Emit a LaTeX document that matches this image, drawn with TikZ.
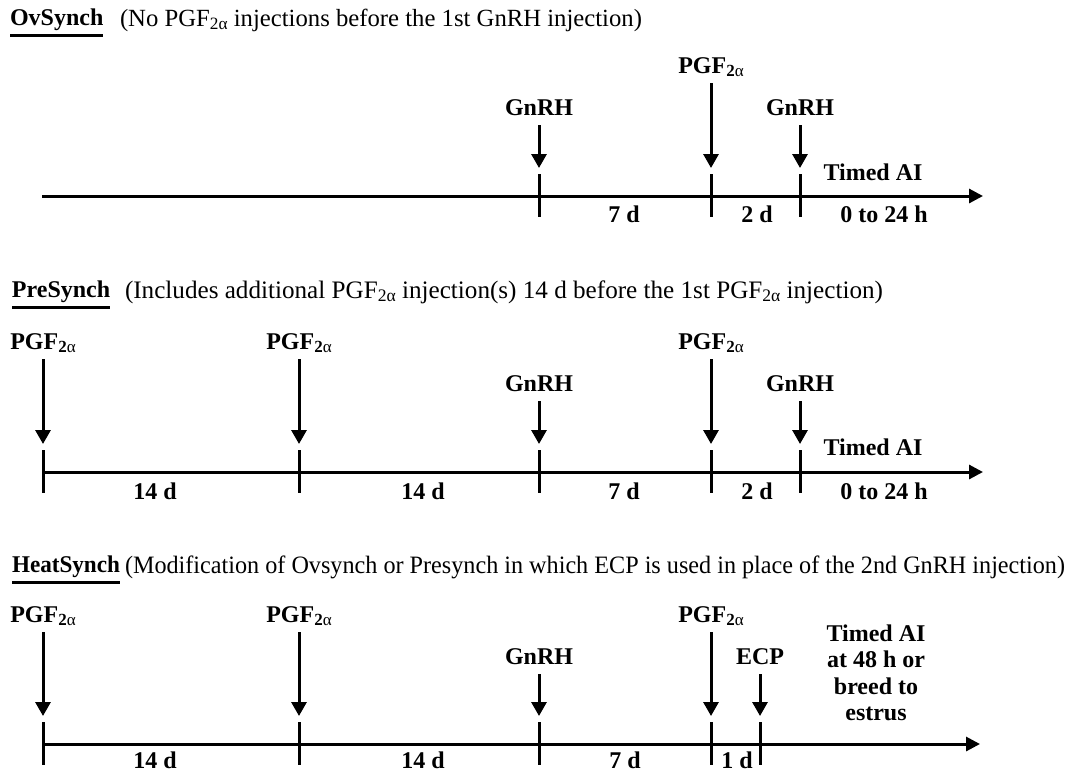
\documentclass[tikz,border=0pt]{standalone}
\usepackage{fontspec}
\setmainfont{Liberation Serif}
\usetikzlibrary{arrows.meta}
\newcommand{\subtwoa}{\raisebox{-0.28ex}{\fontsize{17}{17}\selectfont 2\textmd{α}}}
\newcommand{\subtwor}{\raisebox{-0.28ex}{\fontsize{17.5}{17}\selectfont 2α}}
\newcommand{\pgfb}{PGF\subtwoa}
\newcommand{\pgfr}{PGF\subtwor}
\tikzset{
  x=1pt, y=-1pt,
  every node/.style={inner sep=0pt, outer sep=0pt},
  lbl/.style={font=\fontsize{24}{27}\selectfont\bfseries},
  ttl/.style={font=\fontsize{24}{27}\selectfont\bfseries, anchor=west},
  subt/.style={font=\fontsize{25}{27}\selectfont, anchor=west},
  inj/.style={line width=3pt, -{Triangle[length=14pt,width=15pt]}},
  axisln/.style={line width=3pt, -{Triangle[length=14pt,width=14pt]}},
  tickln/.style={line width=3pt},
  uline/.style={line width=3pt},
}
\begin{document}
\begin{tikzpicture}
\useasboundingbox (0,0) rectangle (1067,772);

% ================= Row 1: OvSynch =================
\node[ttl] (t1) at (10,20) {OvSynch};
\draw[uline] ([yshift=-10pt]t1.base west) -- ([yshift=-10pt]t1.base east);
\node[subt] (s1) at (120,20) {\resizebox{522pt}{!}{(No \pgfr{} injections before the 1st GnRH injection)}};

\coordinate (a1s) at (42,196);
\coordinate (a1e) at (983,196);
\draw[axisln] (a1s) -- (a1e);

\node[lbl] (r1gn1) at (539,108) {GnRH};
\node[lbl] (r1pgf) at (711,67) {\pgfb};
\node[lbl] (r1gn2) at (800,108) {GnRH};
\coordinate (r1gn1a) at (539,125); \coordinate (r1gn1b) at (539,168);
\coordinate (r1pgfa) at (711,83);  \coordinate (r1pgfb) at (711,168);
\coordinate (r1gn2a) at (800,125); \coordinate (r1gn2b) at (800,168);
\draw[inj] (r1gn1a) -- (r1gn1b);
\draw[inj] (r1pgfa) -- (r1pgfb);
\draw[inj] (r1gn2a) -- (r1gn2b);

\coordinate (k1a) at (539,174); \coordinate (k1b) at (539,217);
\coordinate (k2a) at (711,174); \coordinate (k2b) at (711,217);
\coordinate (k3a) at (800,174); \coordinate (k3b) at (800,217);
\draw[tickln] (k1a) -- (k1b);
\draw[tickln] (k2a) -- (k2b);
\draw[tickln] (k3a) -- (k3b);

\node[lbl] (r1ai) at (873,172) {Timed AI};
\node[lbl] (r1d7) at (624,214) {7 d};
\node[lbl] (r1d2) at (757,214) {2 d};
\node[lbl] (r1h) at (884,214) {0 to 24 h};

% ================= Row 2: PreSynch =================
\node[ttl] (t2) at (12,292) {PreSynch};
\draw[uline] ([yshift=-10pt]t2.base west) -- ([yshift=-10pt]t2.base east);
\node[subt] (s2) at (125,292) {\resizebox{758pt}{!}{(Includes additional \pgfr{} injection(s) 14 d before the 1st \pgfr{} injection)}};

\coordinate (a2s) at (43,472);
\coordinate (a2e) at (983,472);
\draw[axisln] (a2s) -- (a2e);

\node[lbl] (r2pgf1) at (43,343) {\pgfb};
\node[lbl] (r2pgf2) at (299,343) {\pgfb};
\node[lbl] (r2gn1) at (539,384) {GnRH};
\node[lbl] (r2pgf3) at (711,343) {\pgfb};
\node[lbl] (r2gn2) at (800,384) {GnRH};
\coordinate (r2p1a) at (43,359);  \coordinate (r2p1b) at (43,444);
\coordinate (r2p2a) at (299,359); \coordinate (r2p2b) at (299,444);
\coordinate (r2g1a) at (539,401); \coordinate (r2g1b) at (539,444);
\coordinate (r2p3a) at (711,359); \coordinate (r2p3b) at (711,444);
\coordinate (r2g2a) at (800,401); \coordinate (r2g2b) at (800,444);
\draw[inj] (r2p1a) -- (r2p1b);
\draw[inj] (r2p2a) -- (r2p2b);
\draw[inj] (r2g1a) -- (r2g1b);
\draw[inj] (r2p3a) -- (r2p3b);
\draw[inj] (r2g2a) -- (r2g2b);

\coordinate (m1a) at (43,450);  \coordinate (m1b) at (43,493);
\coordinate (m2a) at (299,450); \coordinate (m2b) at (299,493);
\coordinate (m3a) at (539,450); \coordinate (m3b) at (539,493);
\coordinate (m4a) at (711,450); \coordinate (m4b) at (711,493);
\coordinate (m5a) at (800,450); \coordinate (m5b) at (800,493);
\draw[tickln] (m1a) -- (m1b);
\draw[tickln] (m2a) -- (m2b);
\draw[tickln] (m3a) -- (m3b);
\draw[tickln] (m4a) -- (m4b);
\draw[tickln] (m5a) -- (m5b);

\node[lbl] (r2ai) at (873,447) {Timed AI};
\node[lbl] (r2d14a) at (155,491) {14 d};
\node[lbl] (r2d14b) at (423,491) {14 d};
\node[lbl] (r2d7) at (624,491) {7 d};
\node[lbl] (r2d2) at (757,491) {2 d};
\node[lbl] (r2h) at (884,491) {0 to 24 h};

% ================= Row 3: HeatSynch =================
\node[ttl] (t3) at (12,567) {\resizebox{108pt}{\height}{HeatSynch}};
\draw[uline] ([yshift=-10pt]t3.base west) -- ([yshift=-10pt]t3.base east);
\node[subt] (s3) at (125,567) {\resizebox{940pt}{\height}{(Modification of Ovsynch or Presynch in which ECP is used in place of the 2nd GnRH injection)}};

\coordinate (a3s) at (43,744);
\coordinate (a3e) at (980,744);
\draw[axisln] (a3s) -- (a3e);

\node[lbl] (r3pgf1) at (43,616) {\pgfb};
\node[lbl] (r3pgf2) at (299,616) {\pgfb};
\node[lbl] (r3gn) at (539,657) {GnRH};
\node[lbl] (r3pgf3) at (711,616) {\pgfb};
\node[lbl] (r3ecp) at (760,657) {ECP};
\coordinate (r3p1a) at (43,632);  \coordinate (r3p1b) at (43,716);
\coordinate (r3p2a) at (299,632); \coordinate (r3p2b) at (299,716);
\coordinate (r3ga) at (539,674);  \coordinate (r3gb) at (539,716);
\coordinate (r3p3a) at (711,632); \coordinate (r3p3b) at (711,716);
\coordinate (r3ea) at (760,674);  \coordinate (r3eb) at (760,716);
\draw[inj] (r3p1a) -- (r3p1b);
\draw[inj] (r3p2a) -- (r3p2b);
\draw[inj] (r3ga) -- (r3gb);
\draw[inj] (r3p3a) -- (r3p3b);
\draw[inj] (r3ea) -- (r3eb);

\coordinate (n1a) at (43,722);  \coordinate (n1b) at (43,765);
\coordinate (n2a) at (299,722); \coordinate (n2b) at (299,765);
\coordinate (n3a) at (539,722); \coordinate (n3b) at (539,765);
\coordinate (n4a) at (711,722); \coordinate (n4b) at (711,765);
\coordinate (n5a) at (760,722); \coordinate (n5b) at (760,765);
\draw[tickln] (n1a) -- (n1b);
\draw[tickln] (n2a) -- (n2b);
\draw[tickln] (n3a) -- (n3b);
\draw[tickln] (n4a) -- (n4b);
\draw[tickln] (n5a) -- (n5b);

\node[lbl, align=center, font=\fontsize{24}{26.5}\selectfont\bfseries] (r3ai) at (876,673) {Timed AI\\at 48 h or\\breed to\\estrus};
\node[lbl] (r3d14a) at (155,760) {14 d};
\node[lbl] (r3d14b) at (423,760) {14 d};
\node[lbl] (r3d7) at (625,760) {7 d};
\node[lbl] (r3d1) at (737,760) {1 d};
\end{tikzpicture}
\end{document}
